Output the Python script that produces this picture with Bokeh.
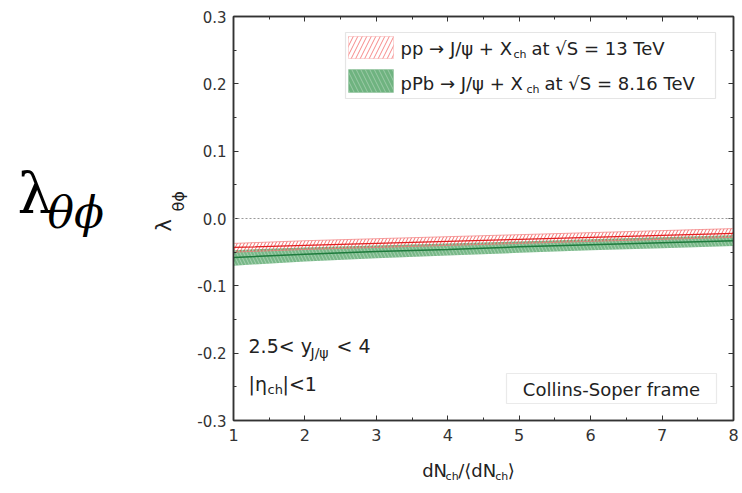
import numpy as np
from bokeh.plotting import figure
from bokeh.layouts import row, column
from bokeh.models import (Label, LinearAxis, FixedTicker, Span, BoxAnnotation,
                          Range1d, ColumnDataSource, CustomJSTickFormatter)
from bokeh.embed import file_html
from bokeh.resources import INLINE

# ---- data ----
mult = [1, 2, 3, 4, 5, 6, 7, 8]
pp_low = [-0.050, -0.046, -0.043, -0.040, -0.037, -0.034, -0.031, -0.028]
pp_high = [-0.037, -0.033, -0.030, -0.027, -0.024, -0.021, -0.018, -0.015]
pp_mid = [-0.043, -0.040, -0.037, -0.034, -0.031, -0.028, -0.025, -0.022]
ppb_low = [-0.070, -0.064, -0.059, -0.055, -0.051, -0.047, -0.044, -0.041]
ppb_high = [-0.047, -0.043, -0.040, -0.037, -0.034, -0.031, -0.028, -0.025]
ppb_mid = [-0.058, -0.053, -0.049, -0.046, -0.042, -0.039, -0.036, -0.033]

x_ticks = [1, 2, 3, 4, 5, 6, 7, 8]
x_minor = [1.5, 2.5, 3.5, 4.5, 5.5, 6.5, 7.5]
y_ticks = [-0.3, -0.2, -0.1, 0.0, 0.1, 0.2, 0.3]
y_minor = [-0.25, -0.15, -0.05, 0.05, 0.15, 0.25]

FONT = "DejaVu Sans"
LEFT_W = 188
MAIN_W = 742 - LEFT_W

# ---------------- main plot ----------------
p = figure(width=MAIN_W, height=455,
           x_range=Range1d(1, 8), y_range=Range1d(-0.3, 0.3),
           output_backend="svg", toolbar_location=None,
           min_border_left=45, min_border_top=16, min_border_right=9,
           min_border_bottom=35, background_fill_color="white",
           border_fill_color="white")
p.xgrid.visible = False
p.ygrid.visible = False
p.outline_line_color = "#333333"
p.outline_line_width = 1.5

yfmt = CustomJSTickFormatter(code="return Math.abs(tick) < 1e-9 ? '0.0' : tick.toFixed(1);")
blank = CustomJSTickFormatter(code="return '';")


def style_axis(ax, labels=True):
    ax.axis_line_color = "#333333"
    ax.axis_line_width = 1.5
    ax.major_tick_in = 5
    ax.major_tick_out = 0
    ax.minor_tick_in = 3
    ax.minor_tick_out = 0
    ax.major_tick_line_color = "#333333"
    ax.minor_tick_line_color = "#333333"
    ax.major_label_text_font = FONT
    ax.major_label_text_color = "#333333"
    ax.major_label_text_font_size = "15px"
    ax.major_label_standoff = 7 if labels else 0
    if not labels:
        ax.formatter = blank
        ax.major_label_text_font_size = "1px"


xt = FixedTicker(ticks=x_ticks, minor_ticks=x_minor)
yt = FixedTicker(ticks=y_ticks, minor_ticks=y_minor)
p.xaxis.ticker = xt
p.yaxis.ticker = yt
p.yaxis.formatter = yfmt
style_axis(p.xaxis[0])
style_axis(p.yaxis[0])
p.xaxis[0].major_label_text_font_size = "16px"
p.xaxis[0].major_label_standoff = 8
top = LinearAxis(ticker=xt)
right = LinearAxis(ticker=yt)
style_axis(top, labels=False)
style_axis(right, labels=False)
p.add_layout(top, "above")
p.add_layout(right, "right")

# zero line
p.add_layout(Span(location=0, dimension="width", line_color="#999999",
                  line_dash="2 2", line_width=1))

src = ColumnDataSource(dict(x=mult, pl=pp_low, ph=pp_high, pm=pp_mid,
                            bl=ppb_low, bh=ppb_high, bm=ppb_mid))

# pPb band (green)
p.varea(x="x", y1="bl", y2="bh", source=src, fill_color="#3f9a55", fill_alpha=0.7,
        hatch_pattern="\\", hatch_color="white", hatch_alpha=0.35, hatch_scale=7,
        hatch_weight=1)
p.line(x="x", y="bm", source=src, line_color="#1d7a3c", line_width=1.5)
# pp band (red hatched)
p.varea(x="x", y1="pl", y2="ph", source=src, fill_alpha=0,
        hatch_pattern="/", hatch_color="#f03a3a", hatch_alpha=0.75, hatch_scale=7,
        hatch_weight=1)
p.line(x="x", y="pl", source=src, line_color="#f27a7a", line_width=1, line_alpha=0.7)
p.line(x="x", y="ph", source=src, line_color="#f27a7a", line_width=1, line_alpha=0.7)
p.line(x="x", y="pm", source=src, line_color="#e02020", line_width=1.3)


# page pixel -> data coordinates of the main plot (frame: x 233..733, y 16..420)
def X(px):
    return 1 + (px - 233) * 7 / 500


def Y(py):
    return 0.3 - (py - 16) * 0.6 / 404


def lab(fig, text, x, y, size, font=FONT, style="normal", align="left",
        baseline="middle", angle=0, color="#222222"):
    fig.add_layout(Label(x=x, y=y, text=text, text_font=font,
                         text_font_size=f"{size}px", text_font_style=style,
                         text_align=align, text_baseline=baseline, angle=angle,
                         text_color=color))


def mlab(text, px, py, size, **kw):
    lab(p, text, X(px), Y(py), size, **kw)


# legend box and swatches
p.add_layout(BoxAnnotation(left=X(345), right=X(715), top=Y(32), bottom=Y(98),
                           fill_color="white", fill_alpha=1, line_color="#aaaaaa",
                           line_width=1.2))
p.add_layout(BoxAnnotation(left=X(348), right=X(393), top=Y(36), bottom=Y(58),
                           fill_color="white", fill_alpha=1, line_color="#f27a7a",
                           hatch_pattern="/", hatch_color="#f03a3a", hatch_alpha=0.6,
                           hatch_scale=9, hatch_weight=1))
p.add_layout(BoxAnnotation(left=X(348), right=X(393), top=Y(69), bottom=Y(92),
                           fill_color="#3f9a55", fill_alpha=0.75, line_color="#6fb07f",
                           hatch_pattern="\\", hatch_color="white", hatch_alpha=0.3,
                           hatch_scale=9, hatch_weight=1))
# Collins-Soper box
p.add_layout(BoxAnnotation(left=X(506), right=X(716), top=Y(373), bottom=Y(403),
                           fill_color="white", fill_alpha=1, line_color="#bbbbbb",
                           line_width=1.2))

# legend texts
mlab("pp \u2192 J/\u03c8 + X", 400, 48, 18)
mlab("ch", 513, 54, 11)
mlab("at \u221aS = 13 TeV", 531, 48, 18)
mlab("pPb \u2192 J/\u03c8 + X", 400, 83, 18)
mlab("ch", 526, 89, 11)
mlab("at \u221aS = 8.16 TeV", 544, 83, 18)

# kinematic texts
mlab("2.5< y", 248, 345, 19)
mlab("J/\u03c8", 310, 352, 14)
mlab("< 4", 336, 345, 19)
mlab("|\u03b7", 248, 383, 19)
mlab("ch", 267, 389, 13)
mlab("|<1", 282, 383, 19)
mlab("Collins-Soper frame", 611, 389, 18, align="center")

# ---------------- left panel (axis title + big symbol) ----------------
left = figure(width=LEFT_W, height=493, x_range=Range1d(0, LEFT_W),
              y_range=Range1d(493, 0), output_backend="svg", toolbar_location=None,
              x_axis_type=None, y_axis_type=None, min_border=0,
              outline_line_color=None, background_fill_color="white",
              border_fill_color="white")
left.xgrid.visible = False
left.ygrid.visible = False

lab(left, "\u03bb", 17, 193, 56, font="DejaVu Serif", baseline="alphabetic",
    color="#000000")
lab(left, "\u03b8\u03d5", 47, 212, 44, font="DejaVu Serif", style="italic",
    baseline="alphabetic", color="#000000")
lab(left, "\u03bb", 163, 231, 21, angle=np.pi / 2, baseline="alphabetic")
lab(left, "\u03b8\u03d5", 178, 211, 16, angle=np.pi / 2, baseline="alphabetic")

# ---------------- bottom strip (x-axis title) ----------------
bottom = figure(width=MAIN_W, height=38, x_range=Range1d(LEFT_W, 742),
                y_range=Range1d(493, 455), output_backend="svg",
                toolbar_location=None, x_axis_type=None, y_axis_type=None,
                min_border=0, outline_line_color=None,
                background_fill_color="white", border_fill_color="white")
bottom.xgrid.visible = False
bottom.ygrid.visible = False
XS = -23  # measured horizontal offset of this strip
lab(bottom, "dN", 420 + XS, 470, 18)
lab(bottom, "ch", 446 + XS, 476, 11)
lab(bottom, "/\u27e8dN", 460 + XS, 470, 18)
lab(bottom, "ch", 501 + XS, 476, 11)
lab(bottom, "\u27e9", 515 + XS, 470, 18)

layout = row(left, column(p, bottom, spacing=0), spacing=0)

open("out.html", "w").write(file_html(layout, INLINE))
